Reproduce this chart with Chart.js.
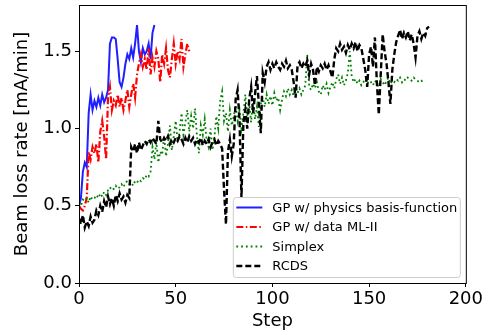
<!DOCTYPE html>
<html>
<head>
<meta charset="utf-8">
<script src="https://cdn.jsdelivr.net/npm/chart.js@4.4.0/dist/chart.umd.min.js"></script>
<style>
  html, body { margin: 0; padding: 0; background: #fff; }
</style>
</head>
<body>
<canvas id="chartBeam" width="485" height="333"></canvas>
<script>
// values, one per step
const gpPhysics = [
  0.50, 0.55, 0.72, 0.78, 0.75, 1.10, 1.22, 1.12, 1.18, 1.14,
  1.20, 1.15, 1.22, 1.17, 1.20, 1.25, 1.55, 1.59, 1.59, 1.58,
  1.45, 1.30, 1.27, 1.33, 1.42, 1.48, 1.45, 1.52, 1.46, 1.55,
  1.67, 1.50, 1.43, 1.52, 1.48, 1.50, 1.55, 1.45, 1.62, 1.67,
];

const gpData = [
  0.50, 0.48, 0.47, 0.50, 0.55, 0.85, 0.80, 0.88, 0.84, 0.90,
  0.78, 0.98, 1.05, 0.95, 0.80, 1.20, 1.27, 1.12, 1.18, 1.15,
  1.22, 1.14, 1.20, 1.12, 1.18, 1.25, 1.14, 1.22, 1.29, 1.20,
  1.35, 1.42, 1.48, 1.40, 1.45, 1.38, 1.52, 1.35, 1.46, 1.40,
  1.50, 1.45, 1.30, 1.48, 1.42, 1.52, 1.38, 1.33, 1.45, 1.55,
  1.42, 1.50, 1.45, 1.58, 1.40, 1.48, 1.55, 1.50,
];

const simplex = [
  0.52, 0.50, 0.54, 0.53, 0.55, 0.52, 0.56, 0.54, 0.55, 0.57,
  0.55, 0.58, 0.56, 0.59, 0.57, 0.60, 0.62, 0.60, 0.61, 0.63,
  0.61, 0.62, 0.64, 0.62, 0.65, 0.66, 0.64, 0.65, 0.63, 0.66,
  0.65, 0.67, 0.66, 0.68, 0.67, 0.70, 0.69, 0.72, 0.88, 0.80,
  0.91, 0.78, 0.85, 0.83, 0.95, 0.82, 0.90, 1.02, 0.86, 0.95,
  1.05, 0.92, 0.98, 1.10, 0.96, 1.04, 1.12, 0.98, 1.08, 1.00,
  1.13, 0.95, 0.84, 1.02, 0.96, 1.06, 0.92, 0.88, 1.00, 0.86,
  0.94, 1.08, 1.00, 1.18, 1.24, 1.05, 1.10, 0.98, 1.12, 1.02,
  1.08, 1.15, 1.05, 1.12, 1.00, 1.10, 1.22, 1.08, 1.16, 1.04,
  1.19, 1.06, 1.14, 1.01, 1.16, 1.20, 1.14, 1.22, 1.16, 1.21,
  1.15, 1.23, 1.18, 1.20, 1.12, 1.19, 1.24, 1.21, 1.26, 1.22,
  1.25, 1.21, 1.27, 1.23, 1.26, 1.22, 1.25, 1.28, 1.48, 1.27,
  1.25, 1.29, 1.26, 1.30, 1.24, 1.22, 1.28, 1.25, 1.29, 1.23,
  1.27, 1.30, 1.26, 1.32, 1.35, 1.29, 1.33, 1.28, 1.31, 1.36,
  1.50, 1.34, 1.30, 1.32, 1.29, 1.31, 1.28, 1.30, 1.32, 1.29,
  1.31, 1.30, 1.28, 1.31, 1.29, 1.27, 1.32, 1.30, 1.28, 1.31,
  1.33, 1.29, 1.31, 1.30, 1.32, 1.31, 1.33, 1.30, 1.32, 1.31,
  1.33, 1.32, 1.31, 1.33, 1.32, 1.31, 1.30, 1.31, 1.30, 1.30,
];

const rcds = [
  0.42, 0.38, 0.44, 0.36, 0.40, 0.37, 0.43, 0.39, 0.41, 0.47,
  0.44, 0.50, 0.46, 0.53, 0.49, 0.56, 0.51, 0.55, 0.50, 0.57,
  0.53, 0.58, 0.54, 0.56, 0.52, 0.57, 0.55, 0.88, 0.85, 0.90,
  0.84, 0.91, 0.86, 0.89, 0.92, 0.90, 0.93, 0.91, 0.94, 0.92,
  0.90, 1.05, 0.93, 0.91, 0.94, 0.92, 0.95, 0.90, 0.93, 0.91,
  0.94, 0.92, 0.95, 0.93, 0.90, 0.94, 0.91, 0.95, 0.92, 0.94,
  0.90, 0.93, 0.91, 0.94, 0.89, 0.92, 0.90, 0.93, 0.88, 0.91,
  0.93, 0.89, 0.92, 0.90, 0.87, 0.60, 0.38, 0.85, 0.93, 0.82,
  0.90, 1.19, 1.25, 1.05, 0.55, 1.04, 1.12, 1.00, 1.19, 1.27,
  1.10, 1.22, 1.34, 1.15, 0.97, 1.36, 1.30, 1.40, 1.43, 1.38,
  1.42, 1.39, 1.43, 1.40, 1.38, 1.42, 1.40, 1.44, 1.39, 1.41,
  1.38, 1.30, 1.20, 1.41, 1.43, 1.39, 1.42, 1.40, 1.44, 1.35,
  1.42, 1.38, 1.28, 1.40, 1.37, 1.41, 1.39, 1.42, 1.38, 1.41,
  1.37, 1.33, 1.45, 1.52, 1.50, 1.55, 1.51, 1.53, 1.49, 1.54,
  1.51, 1.55, 1.52, 1.56, 1.50, 1.54, 1.52, 1.45, 1.38, 1.27,
  1.48, 1.53, 1.40, 1.59, 1.30, 1.09, 1.35, 1.61, 1.50, 1.42,
  1.30, 1.16, 1.38, 1.48, 1.56, 1.60, 1.64, 1.58, 1.62, 1.59,
  1.63, 1.57, 1.61, 1.55, 1.46, 1.60, 1.63, 1.58, 1.62, 1.60,
  1.65, 1.66,
];

const xTicks = [0, 50, 100, 150, 200];
const yTicks = [0.0, 0.5, 1.0, 1.5];

const toPoints = (arr) => arr.map((v, i) => ({ x: i, y: v }));

// box around the axes (matplotlib style spines)
const frame = {
  id: "frame",
  afterDatasetsDraw(chart) {
    const { ctx, chartArea: a } = chart;
    ctx.save();
    ctx.strokeStyle = "#000";
    ctx.lineWidth = 1;
    ctx.strokeRect(a.left + 0.5, a.top + 0.5, a.right - a.left, a.bottom - a.top);
    ctx.restore();
  },
};

// legend drawn inside the plot, lower right
const innerLegend = {
  id: "innerLegend",
  afterDatasetsDraw(chart) {
    const { ctx, chartArea: a } = chart;
    const w = 227, h = 80;
    const x = a.right - w - 5.5, y = a.bottom - h - 5.5;
    ctx.save();
    ctx.beginPath();
    const r = 3;
    ctx.moveTo(x + r, y);
    ctx.lineTo(x + w - r, y);
    ctx.quadraticCurveTo(x + w, y, x + w, y + r);
    ctx.lineTo(x + w, y + h - r);
    ctx.quadraticCurveTo(x + w, y + h, x + w - r, y + h);
    ctx.lineTo(x + r, y + h);
    ctx.quadraticCurveTo(x, y + h, x, y + h - r);
    ctx.lineTo(x, y + r);
    ctx.quadraticCurveTo(x, y, x + r, y);
    ctx.closePath();
    ctx.fillStyle = "rgba(255,255,255,0.8)";
    ctx.fill();
    ctx.strokeStyle = "#cccccc";
    ctx.lineWidth = 1;
    ctx.stroke();

    ctx.font = "13px 'DejaVu Sans'";
    ctx.textBaseline = "middle";
    chart.data.datasets.forEach((ds, i) => {
      const rowY = y + 10 + i * 19.5;
      ctx.beginPath();
      ctx.setLineDash(ds.borderDash || []);
      ctx.strokeStyle = ds.borderColor;
      ctx.lineWidth = ds.borderWidth;
      ctx.moveTo(x + 3, rowY);
      ctx.lineTo(x + 29, rowY);
      ctx.stroke();
      ctx.setLineDash([]);
      ctx.fillStyle = "#000";
      ctx.fillText(ds.label, x + 39, rowY + 1);
    });
    ctx.restore();
  },
};

Chart.defaults.color = "#000";
Chart.defaults.font.family = "'DejaVu Sans'";

const ctxBeam = document.getElementById("chartBeam").getContext("2d");
const chartBeam = new Chart(ctxBeam, {
  type: "line",
  data: {
    datasets: [
      {
        label: "GP w/ physics basis-function",
        data: toPoints(gpPhysics),
        borderColor: "#1f1fff",
        borderWidth: 2,
        order: 4,
      },
      {
        label: "GP w/ data ML-II",
        data: toPoints(gpData),
        borderColor: "#ff0000",
        borderWidth: 2.2,
        borderDash: [7, 2.5, 1.5, 2.5],
        order: 3,
      },
      {
        label: "Simplex",
        data: toPoints(simplex),
        borderColor: "#008000",
        borderWidth: 1.8,
        borderDash: [1.8, 3],
        order: 2,
      },
      {
        label: "RCDS",
        data: toPoints(rcds),
        borderColor: "#000000",
        borderWidth: 2.4,
        borderDash: [6, 3],
        order: 1,
      },
    ],
  },
  options: {
    responsive: false,
    animation: false,
    devicePixelRatio: 1,
    layout: { padding: { top: 5, right: 17, left: 0, bottom: 0 } },
    elements: { point: { radius: 0 }, line: { tension: 0 } },
    plugins: { legend: { display: false }, tooltip: { enabled: false } },
    scales: {
      x: {
        type: "linear",
        min: 0,
        max: 200,
        afterBuildTicks: (scale) => {
          scale.ticks = xTicks.map((v) => ({ value: v }));
        },
        afterFit: (scale) => {
          scale.height = 50;
        },
        grid: { drawOnChartArea: false, drawTicks: true, tickLength: 4, color: "#000" },
        border: { display: true, color: "#000" },
        ticks: { font: { size: 18 }, padding: 2, maxRotation: 0 },
        title: { display: true, text: "Step", font: { size: 18 }, padding: { top: 0, bottom: 1 } },
      },
      y: {
        type: "linear",
        min: 0,
        max: 1.8,
        afterBuildTicks: (scale) => {
          scale.ticks = yTicks.map((v) => ({ value: v }));
        },
        afterFit: (scale) => {
          scale.width = 79;
          scale.paddingTop = 0;
          scale.paddingBottom = 0;
        },
        grid: { drawOnChartArea: false, drawTicks: true, tickLength: 4, color: "#000" },
        border: { display: true, color: "#000" },
        ticks: {
          font: { size: 18 },
          padding: 3,
          callback: (v) => v.toFixed(1),
        },
        title: {
          display: true,
          text: "Beam loss rate [mA/min]",
          font: { size: 18 },
          padding: { top: 12, bottom: 0 },
        },
      },
    },
  },
  plugins: [frame, innerLegend],
});
</script>
</body>
</html>
